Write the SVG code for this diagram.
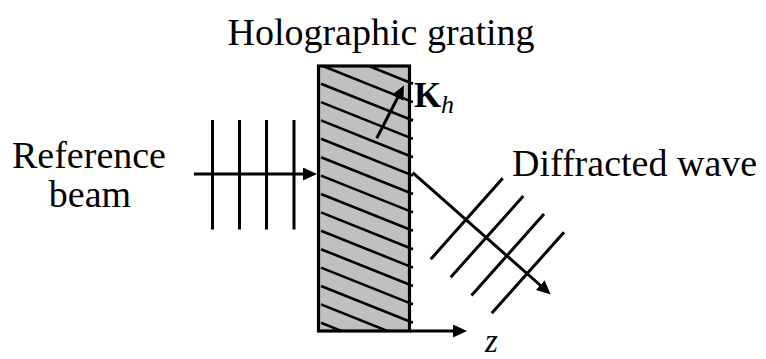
<svg xmlns="http://www.w3.org/2000/svg" width="766" height="359" viewBox="0 0 766 359">
  <defs>
    <marker id="head" markerUnits="userSpaceOnUse" markerWidth="16" markerHeight="14" refX="8" refY="6.5" orient="auto">
      <path d="M0,0 L14,6.5 L0,13 z" fill="#000"/>
    </marker>
    <clipPath id="gratingClip">
      <rect x="319" y="66" width="95" height="265"/>
    </clipPath>
  </defs>
  <style>
    .txt { font-family: "Liberation Serif", "Times New Roman", serif; font-size: 38px; fill: #000; }
    .kvec { font-family: "Liberation Serif", "Times New Roman", serif; font-size: 35px; font-weight: bold; fill: #000; }
    .sub { font-family: "Liberation Serif", "Times New Roman", serif; font-size: 26px; font-style: italic; fill: #000; }
    .axis { font-family: "Liberation Serif", "Times New Roman", serif; font-size: 33px; font-style: italic; fill: #000; }
    .arrow { stroke: #000; stroke-width: 3; fill: none; marker-end: url(#head); }
    .front { stroke: #000; stroke-width: 3; fill: none; }
    .hatch { stroke: #000; stroke-width: 2.6; fill: none; }
  </style>

  <g id="title">
    <text class="txt" x="381" y="45" text-anchor="middle">Holographic grating</text>
  </g>

  <g id="grating">
    <rect x="318.5" y="66" width="91" height="265" fill="#c0c0c0"/>
    <g clip-path="url(#gratingClip)">
      <path class="hatch" d="M321,46.9 L413,83.7 M321,65.3 L413,102.1 M321,83.7 L413,120.5 M321,102.1 L413,138.9 M321,120.4 L413,157.2 M321,138.8 L413,175.6 M321,157.2 L413,194 M321,175.6 L413,212.4 M321,194 L413,230.8 M321,212.4 L413,249.2 M321,230.8 L413,267.6 M321,249.2 L413,286 M321,267.6 L413,304.4 M321,286 L413,322.8 M321,304.4 L413,341.2 M321,322.8 L413,359.6"/>
    </g>
    <rect x="318.5" y="66" width="91" height="265" fill="none" stroke="#000" stroke-width="3.2"/>
  </g>

  <g id="kh-label">
    <text class="kvec" x="414" y="107">K</text>
    <text class="sub" x="441" y="113">h</text>
  </g>

  <g id="reference-beam">
    <text class="txt" x="89" y="168" text-anchor="middle">Reference</text>
    <text class="txt" x="90" y="207" text-anchor="middle">beam</text>
    <path class="front" d="M212.5,120 V229.5 M239.5,120 V229.5 M266.5,120 V229.5 M294,120 V229.5"/>
  </g>

  <g id="diffracted-wave">
    <text class="txt" x="512" y="176">Diffracted wave</text>
    <path class="front" d="M430.7,259.3 L502.7,178.3 M450.7,277.3 L523.3,196 M471.5,295.5 L544,214 M491.7,313.3 L564,232.3"/>
  </g>

  <g id="z-axis">
    <text class="axis" x="485" y="352">z</text>
  </g>

  <g id="connectors">
    <path class="arrow" d="M194,174 H311"/>
    <path class="arrow" d="M410,331 H461"/>
    <path class="arrow" d="M412.7,172.7 L546.2,290.5"/>
    <path class="arrow" d="M376.7,138.3 L401.2,90.8"/>
  </g>
</svg>
